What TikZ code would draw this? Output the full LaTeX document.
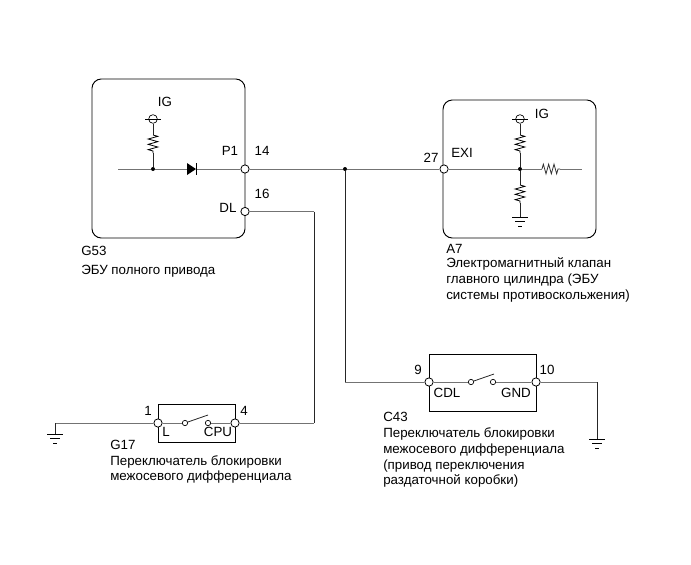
\documentclass[tikz,border=0pt]{standalone}
\usepackage{fontspec}
\setmainfont{Liberation Sans}
\usetikzlibrary{positioning, calc, decorations.pathmorphing}

\tikzset{
  ground/.pic={
    \draw[line width=0.6pt] (-8,0) -- (8,0);
    \draw[line width=0.5pt] (-5,4.5) -- (5,4.5);
    \draw[line width=0.5pt] (-2,9) -- (2,9);
  },
  supply/.pic={
    \draw[line width=0.5pt] (-8,0) -- (8,0);
  }
}

\begin{document}
\begin{tikzpicture}[
        x=0.75pt, y=-0.75pt,
        every node/.style={font=\fontsize{10}{11.5}\selectfont, inner sep=0pt},
        ecubox/.style={draw, line width=0.7pt, rounded corners=7pt},
        swbox/.style={draw, line width=0.7pt},
        pin/.style={draw, circle, fill=white, line width=0.6pt, minimum size=6.2pt},
        contact/.style={draw, circle, fill=white, line width=0.5pt, minimum size=4pt},
        dot/.style={circle, fill=black, minimum size=3pt},
        wire/.style={line width=0.7pt, black!55},
        vwire/.style={line width=0.6pt, black!85},
        resistor/.style={line width=0.6pt, decorate, decoration={zigzag, amplitude=3.6pt, segment length=4pt}},
        caption/.style={anchor=base west, align=left}
      ]
    \useasboundingbox (0,0) rectangle (691,564);

    % boxes
    \node (ecuG) [ecubox, minimum width=114.75pt, minimum height=119.25pt] at (168.5,158.5) {};
    \node (ecuA) [ecubox, minimum width=114.75pt, minimum height=103.5pt] at (519.5,169) {};
    \node (swG) [swbox, minimum width=57.75pt, minimum height=28.5pt] at (196.5,423) {};
    \node (swC) [swbox, minimum width=80.25pt, minimum height=42.75pt] at (482.5,382.5) {};

    % pins
    \node (pinP) [pin] at (245,169) {};
    \node (pinDL) [pin] at (245,211.5) {};
    \node (pinEXI) [pin] at (444,169) {};
    \node (pinL) [pin] at (158,423) {};
    \node (pinCPU) [pin] at (235,423) {};
    \node (pinCDL) [pin] at (429,382) {};
    \node (pinGND) [pin] at (536,382) {};

    % junctions and contacts
    \node (juncG) [dot] at (153,169) {};
    \node (juncW) [dot] at (345,169) {};
    \node (juncA) [dot] at (520,169) {};
    \node (contL) [contact] at (185,423) {};
    \node (contCPU) [contact] at (208,423) {};
    \node (contCDL) [contact] at (471,382) {};
    \node (contGND) [contact] at (493,382) {};
    \node (igG) [draw, circle, line width=0.5pt, minimum size=6.5pt] at (153,119) {};
    \node (igA) [draw, circle, line width=0.5pt, minimum size=6.5pt] at (520,119) {};

    % free ends
    \coordinate (startG) at (118,169);
    \coordinate (endA) at (582,169);
    \coordinate (gndG) at (55,434);
    \coordinate (gndC) at (597,439);
    \coordinate (gndA) at (520,217);
    \coordinate (diodeL) at (187,169);
    \coordinate (diodeR) at (196,169);

    % G53
    \draw[vwire] (igG) -- (153,135);
    \draw[resistor] (153,135) -- (153,153);
    \draw[vwire] (153,153) -- (juncG);
    \pic at (igG.center) {supply};
    \draw[wire] (startG) -- (juncG);
    \draw[wire] (juncG) -- (diodeL);
    \draw[wire] (diodeR) -- (pinP);
    \fill (187,163) -- (196,169) -- (187,175) -- cycle;
    \draw[line width=0.6pt] (196,163) -- (196,175);

    % A7
    \draw[vwire] (igA) -- (520,135);
    \draw[resistor] (520,135) -- (520,153);
    \draw[vwire] (520,153) -- (juncA);
    \pic at (igA.center) {supply};
    \draw[vwire] (juncA) -- (520,185);
    \draw[resistor] (520,185) -- (520,203);
    \draw[vwire] (520,203) -- (gndA);
    \pic at (gndA) {ground};
    \draw[wire] (pinEXI) -- (juncA);
    \draw[wire] (juncA) -- (542,169);
    \draw[resistor, black!80] (542,169) -- (560,169);
    \draw[wire] (560,169) -- (endA);

    % between units
    \draw[wire] (pinP) -- (juncW);
    \draw[wire] (juncW) -- (pinEXI);
    \draw[vwire] (juncW) -- (345,382);
    \draw[wire] (345,382) -- (pinCDL);
    \draw[wire] (pinDL) -- (314,211.5);
    \draw[vwire] (314,211.5) -- (314,423);
    \draw[wire] (314,423) -- (pinCPU);

    % G17
    \draw[wire] (pinL) -- (55,423);
    \draw[vwire] (55,423) -- (gndG);
    \pic at (gndG) {ground};
    \draw[wire] (pinL) -- (contL);
    \draw[vwire] (contL) -- (208,415);
    \draw[wire] (contCPU) -- (pinCPU);

    % C43
    \draw[wire] (pinCDL) -- (contCDL);
    \draw[vwire] (contCDL) -- (494,374);
    \draw[wire] (contGND) -- (pinGND);
    \draw[wire] (pinGND) -- (597,382);
    \draw[vwire] (597,382) -- (gndC);
    \pic at (gndC) {ground};

    % labels
    \node (igGlabel) at (165,102) {IG};
    \node (igAlabel) at (542,114) {IG};
    \node (labP) at (230,151) {P1};
    \node (num14) at (262,151) {14};
    \node (num16) at (262,194) {16};
    \node (labDL) at (228,208) {DL};
    \node (labEXI) at (462,153) {EXI};
    \node (num27) at (431,158) {27};
    \node (num1) at (148,411) {1};
    \node (num4) at (244,411) {4};
    \node (labL) at (166,432) {L};
    \node (labCPU) at (218,432) {CPU};
    \node (num9) at (418,370) {9};
    \node (num10) at (547,370) {10};
    \node (labCDL) at (447,393) {CDL};
    \node (labGND) at (516,393) {GND};

    % captions
    \node (capG53a) [caption] at (81,255) {G53};
    \node (capG53b) [caption] at (81,274) {ЭБУ полного привода};
    \node (capA7a) [caption] at (446,253) {A7};
    \node (capA7b) [caption] at (446,267) {Электромагнитный клапан};
    \node (capA7c) [caption] at (446,283) {главного цилиндра (ЭБУ};
    \node (capA7d) [caption] at (446,299) {системы противоскольжения)};
    \node (capG17a) [caption] at (110,449) {G17};
    \node (capG17b) [caption] at (110,465) {Переключатель блокировки};
    \node (capG17c) [caption] at (110,480) {межосевого дифференциала};
    \node (capC43a) [caption] at (383,421) {C43};
    \node (capC43b) [caption] at (383,437) {Переключатель блокировки};
    \node (capC43c) [caption] at (383,453) {межосевого дифференциала};
    \node (capC43d) [caption] at (383,469) {(привод переключения};
    \node (capC43e) [caption] at (383,484) {раздаточной коробки)};

\end{tikzpicture}
\end{document}
